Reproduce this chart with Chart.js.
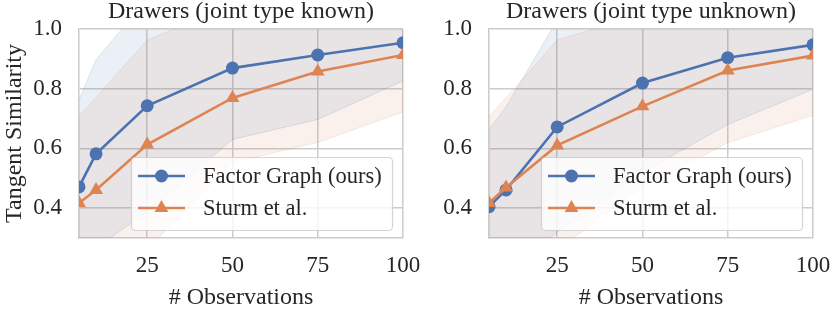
<!DOCTYPE html>
<html><head><meta charset="utf-8">
<script src="https://cdn.jsdelivr.net/npm/chart.js@4/dist/chart.umd.min.js"></script>
<style>
html,body{margin:0;padding:0;background:#fff;}
#wrap{position:relative;width:830px;height:310px;overflow:hidden;background:#fff;}
canvas{position:absolute;top:0;}
#left{left:0;}
#right{left:425px;}
</style></head><body>
<div id="wrap">
<canvas id="left" width="425" height="310"></canvas>
<canvas id="right" width="405" height="310"></canvas>
</div>
<script>
// ---------- data ----------
const observations = [5, 10, 25, 50, 75, 100];
const xTicks = [25, 50, 75, 100];
const yTicks = [0.4, 0.6, 0.8, 1.0];
const seriesNames = ['Factor Graph (ours)', 'Sturm et al.'];
const panelTitles = ['Drawers (joint type known)', 'Drawers (joint type unknown)'];
const yAxisLabel = 'Tangent Similarity';
const xAxisLabel = '# Observations';

// panel 1: joint type known
const knownFactorGraph      = [0.471, 0.582, 0.743, 0.869, 0.913, 0.954];
const knownFactorGraphUpper = [0.763, 0.897, 1.10, 1.11, 1.13, 1.08];
const knownFactorGraphLower = [0.180, 0.267, 0.387, 0.630, 0.697, 0.826];
const knownSturm            = [0.417, 0.461, 0.613, 0.769, 0.858, 0.913];
const knownSturmUpper       = [0.708, 0.772, 0.963, 1.08, 1.10, 1.10];
const knownSturmLower       = [0.127, 0.150, 0.263, 0.553, 0.620, 0.722];

// panel 2: joint type unknown
const unknownFactorGraph      = [0.405, 0.461, 0.672, 0.819, 0.904, 0.947];
const unknownFactorGraphUpper = [0.663, 0.739, 1.03, 1.08, 1.12, 1.10];
const unknownFactorGraphLower = [0.145, 0.180, 0.320, 0.520, 0.680, 0.798];
const unknownSturm            = [0.417, 0.469, 0.610, 0.741, 0.861, 0.911];
const unknownSturmUpper       = [0.708, 0.770, 0.963, 1.05, 1.10, 1.10];
const unknownSturmLower       = [0.127, 0.170, 0.260, 0.470, 0.619, 0.711];

// ---------- styles ----------
const BLUE = '#4C72B0', ORANGE = '#DD8452';
const BLUE_FILL = 'rgba(76,114,176,0.11)', ORANGE_FILL = 'rgba(221,132,82,0.11)';
const BLUE_EDGE = 'rgba(76,114,176,0.16)', ORANGE_EDGE = 'rgba(221,132,82,0.16)';
const TEXT = '#262626', GRID = '#cccccc';
const FONT = '"Liberation Serif", "Times New Roman", "DejaVu Serif", serif';
const FS_TITLE = 24, FS_TICK = 23, FS_LABEL = 24, FS_LEGEND = 22.5;

function pts(ys){ return observations.map((x,i)=>({x:x, y:ys[i]})); }

function bandSets(upper, lower, edge, fill){
  return [
    {data: pts(upper), borderColor: edge, borderWidth: 1, pointRadius: 0, fill: false, order: 20},
    {data: pts(lower), borderColor: edge, borderWidth: 1, pointRadius: 0, fill: '-1', backgroundColor: fill, order: 20}
  ];
}

const panelPlugin = {
  id: 'panelDecor',
  afterDraw(chart){
    const ctx = chart.ctx, ca = chart.chartArea, o = chart.options.plugins.panelDecor;
    ctx.save();
    // title
    ctx.fillStyle = TEXT;
    ctx.font = FS_TITLE + 'px ' + FONT;
    ctx.textAlign = 'center';
    ctx.textBaseline = 'alphabetic';
    ctx.fillText(o.title, (ca.left + ca.right)/2, 18);
    // legend
    const w = 261, h = 73;
    const x0 = ca.right - 11 - w, y0 = ca.bottom - 8 - h;
    ctx.beginPath();
    ctx.roundRect(x0 + 0.5, y0 + 0.5, w, h, 4);
    ctx.fillStyle = 'rgba(255,255,255,0.8)';
    ctx.fill();
    ctx.strokeStyle = 'rgba(204,204,204,0.85)';
    ctx.lineWidth = 1.2;
    ctx.stroke();
    const items = [
      {name: seriesNames[0], color: BLUE, style: 'circle'},
      {name: seriesNames[1], color: ORANGE, style: 'triangle'}
    ];
    items.forEach((it, i) => {
      const cy = y0 + 19 + i * 32;
      ctx.strokeStyle = it.color;
      ctx.lineWidth = 2.5;
      ctx.beginPath();
      ctx.moveTo(x0 + 7, cy); ctx.lineTo(x0 + 54, cy);
      ctx.stroke();
      ctx.fillStyle = it.color;
      const mx = x0 + 30.5;
      ctx.beginPath();
      if (it.style === 'circle') {
        ctx.arc(mx, cy, 6.5, 0, Math.PI * 2);
      } else {
        const r = 8;
        ctx.moveTo(mx, cy - r);
        ctx.lineTo(mx + 0.866 * r, cy + 0.5 * r);
        ctx.lineTo(mx - 0.866 * r, cy + 0.5 * r);
        ctx.closePath();
      }
      ctx.fill();
      ctx.fillStyle = TEXT;
      ctx.textAlign = 'left';
      ctx.textBaseline = 'middle';
      ctx.font = FS_LEGEND + 'px ' + FONT;
      ctx.fillText(it.name, x0 + 72, cy + 1);
    });
    ctx.restore();
  }
};

function makeChart(id, title, fg, fgU, fgL, st, stU, stL, showYTitle, yWidth, rightPad){
  const datasets = [
    ...bandSets(fgU, fgL, BLUE_EDGE, BLUE_FILL),
    ...bandSets(stU, stL, ORANGE_EDGE, ORANGE_FILL),
    {label: seriesNames[0], data: pts(fg), borderColor: BLUE, backgroundColor: BLUE, borderWidth: 2.6,
     pointStyle: 'circle', pointRadius: 6.5, pointBorderWidth: 0, fill: false, order: 2},
    {label: seriesNames[1], data: pts(st), borderColor: ORANGE, backgroundColor: ORANGE, borderWidth: 2.6,
     pointStyle: 'triangle', pointRadius: 8, pointBorderWidth: 0, fill: false, order: 1}
  ];
  return new Chart(document.getElementById(id), {
    type: 'line',
    data: {datasets},
    plugins: [panelPlugin],
    options: {
      responsive: false, animation: false, devicePixelRatio: 1,
      layout: {padding: {left: 0, right: rightPad, top: 29, bottom: 0}},
      plugins: {legend: {display: false}, tooltip: {enabled: false}, panelDecor: {title}},
      scales: {
        x: {
          type: 'linear', min: 5, max: 100,
          afterBuildTicks: s => { s.ticks = xTicks.map(v => ({value: v})); },
          afterFit: s => { s.height = 72; s.paddingLeft = 0; s.paddingRight = 0; },
          grid: {color: GRID, lineWidth: 1.5, drawTicks: false},
          border: {color: GRID, width: 1.5},
          ticks: {color: TEXT, font: {family: FONT, size: FS_TICK}, padding: 14, maxRotation: 0,
                  callback: v => String(v)},
          title: {display: true, text: xAxisLabel, color: TEXT, font: {family: FONT, size: FS_LABEL}, padding: {top: 0, bottom: -2}}
        },
        y: {
          type: 'linear', min: 0.3, max: 1.0,
          afterBuildTicks: s => { s.ticks = yTicks.map(v => ({value: v})); },
          afterFit: s => { s.width = yWidth; s.paddingTop = 0; s.paddingBottom = 0; },
          grid: {color: GRID, lineWidth: 1.5, drawTicks: false},
          border: {color: GRID, width: 1.5},
          ticks: {color: TEXT, font: {family: FONT, size: FS_TICK}, padding: 17,
                  callback: v => v.toFixed(1)},
          title: {display: showYTitle, text: yAxisLabel, color: TEXT, font: {family: FONT, size: FS_LABEL}, padding: {top: 0, bottom: 0}}
        }
      }
    }
  });
}

makeChart('left', panelTitles[0], knownFactorGraph, knownFactorGraphUpper, knownFactorGraphLower,
          knownSturm, knownSturmUpper, knownSturmLower, true, 79, 22);
makeChart('right', panelTitles[1], unknownFactorGraph, unknownFactorGraphUpper, unknownFactorGraphLower,
          unknownSturm, unknownSturmUpper, unknownSturmLower, false, 64, 17);
</script>
</body></html>
